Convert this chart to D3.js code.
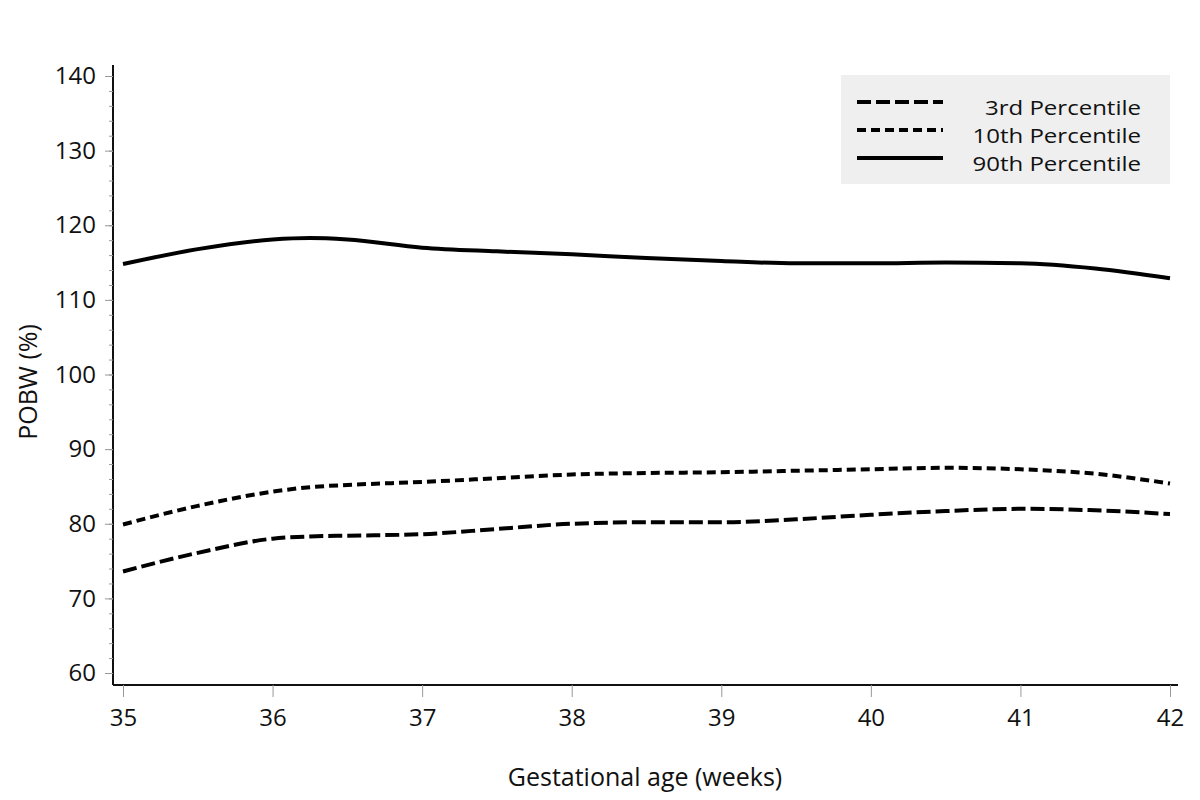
<!DOCTYPE html>
<html><head><meta charset="utf-8">
<script src="https://cdn.jsdelivr.net/npm/d3@7"></script>
<style>body{margin:0;background:#fff}text{font-family:"Open Sans","Noto Sans",sans-serif;fill:#111}</style>
</head><body><svg id="c" width="1200" height="800"></svg>
<script>
const weeks = [35, 35.5, 36, 36.25, 36.5, 37, 37.5, 38, 38.5, 39, 39.5, 40, 40.5, 41, 41.5, 42];
const p90 = [114.8, 116.8, 118.1, 118.3, 118.1, 117.0, 116.5, 116.1, 115.6, 115.2, 114.9, 114.9, 115.0, 114.9, 114.2, 112.9];
const p10 = [79.9, 82.4, 84.3, 84.9, 85.2, 85.6, 86.1, 86.6, 86.8, 86.9, 87.1, 87.3, 87.5, 87.3, 86.7, 85.4];
const p3  = [73.6, 76.1, 78.0, 78.3, 78.4, 78.6, 79.3, 80.0, 80.2, 80.2, 80.6, 81.2, 81.7, 82.0, 81.8, 81.3];
const seriesNames = ["3rd Percentile", "10th Percentile", "90th Percentile"];
const xTicks = [35, 36, 37, 38, 39, 40, 41, 42];
const yTicks = [60, 70, 80, 90, 100, 110, 120, 130, 140];

const FONT = '"Open Sans","Noto Sans",sans-serif';
const svg = d3.select("#c");
const x = d3.scaleLinear().domain([35, 42]).range([123, 1170]);
const y = d3.scaleLinear().domain([60, 140]).range([673, 76]);
const axisX0 = 113, axisY0 = 685;

// axes lines
svg.append("line").attr("x1", axisX0).attr("x2", axisX0).attr("y1", 65).attr("y2", axisY0).attr("stroke", "#111").attr("stroke-width", 2);
svg.append("line").attr("x1", axisX0).attr("x2", 1178).attr("y1", axisY0).attr("y2", axisY0).attr("stroke", "#111").attr("stroke-width", 2);

// y ticks
const yMinor = d3.range(60, 141, 2);
const yAx = svg.append("g").attr("transform", `translate(${axisX0},0)`)
  .call(d3.axisLeft(y).tickValues(yMinor).tickSize(4).tickFormat(""));
yAx.select(".domain").remove();
yAx.selectAll("line").attr("stroke", "#999");
const yMaj = svg.append("g").attr("transform", `translate(${axisX0},0)`)
  .call(d3.axisLeft(y).tickValues(yTicks).tickSize(8).tickPadding(9).tickFormat(d3.format("d")));
yMaj.select(".domain").remove();
yMaj.selectAll("line").attr("stroke", "#999");
yMaj.selectAll("text").attr("font-size", 24).style("font-family", FONT).attr("fill", "#111");

// x ticks
const xAx = svg.append("g").attr("transform", `translate(0,${axisY0})`)
  .call(d3.axisBottom(x).tickValues(xTicks).tickSize(12).tickPadding(12).tickFormat(d3.format("d")));
xAx.select(".domain").remove();
xAx.selectAll("line").attr("stroke", "#999");
xAx.selectAll("text").attr("font-size", 24).style("font-family", FONT).attr("fill", "#111");

// titles
svg.append("text").attr("x", 645).attr("y", 786).attr("text-anchor", "middle").attr("font-size", 25).text("Gestational age (weeks)");
svg.append("text").attr("transform", "translate(37,382) rotate(-90)").attr("text-anchor", "middle").attr("font-size", 25).text("POBW (%)");

// lines
const line = d3.line().x(d => x(d[0])).y(d => y(d[1])).curve(d3.curveMonotoneX);
const dashes = ["14,5", "9,5", null];
[p3, p10, p90].forEach((vals, i) => {
  const p = svg.append("path").datum(weeks.map((w, j) => [w, vals[j]]))
    .attr("d", line).attr("fill", "none").attr("stroke", "#000").attr("stroke-width", 4);
  if (dashes[i]) p.attr("stroke-dasharray", dashes[i]);
});

// legend
const lg = svg.append("g");
lg.append("rect").attr("x", 841).attr("y", 75).attr("width", 329).attr("height", 109).attr("fill", "#efefef");
seriesNames.forEach((n, i) => {
  const yy = 102 + i * 28;
  const l = lg.append("line").attr("x1", 857).attr("x2", 943).attr("y1", yy).attr("y2", yy).attr("stroke", "#000").attr("stroke-width", 4);
  if (dashes[i]) l.attr("stroke-dasharray", dashes[i]);
  const t = lg.append("text").attr("x", 1141).attr("y", yy + 13).attr("text-anchor", "end").attr("font-size", 24).text(n);
  const w = t.node().getComputedTextLength();
  t.attr("font-size", 20).attr("textLength", w).attr("lengthAdjust", "spacingAndGlyphs");
});
</script></body></html>
